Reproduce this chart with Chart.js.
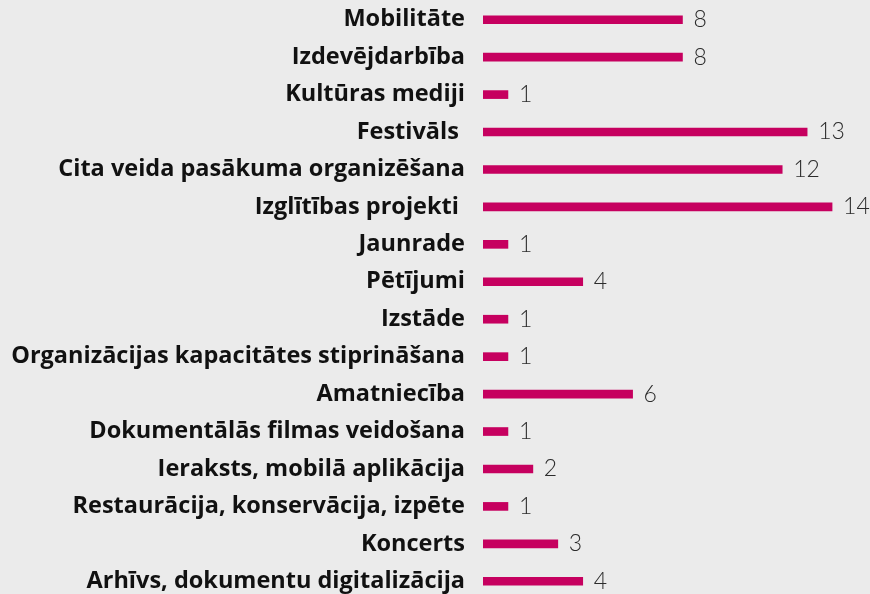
<!DOCTYPE html>
<html>
<head>
  <meta charset="UTF-8" />
  <title>Projektu jomas</title>
  <script src="https://cdn.jsdelivr.net/npm/chart.js"></script>
  <style>
    html, body { margin: 0; padding: 0; background: #ebebeb; overflow: hidden; }
    #wrap { width: 870px; height: 601px; }
  </style>
</head>
<body>
  <div id="wrap"><canvas id="chart"></canvas></div>
  <script>
    const categories = [
      'Mobilitāte', 'Izdevējdarbība', 'Kultūras mediji', 'Festivāls ',
      'Cita veida pasākuma organizēšana', 'Izglītības projekti ', 'Jaunrade',
      'Pētījumi', 'Izstāde', 'Organizācijas kapacitātes stiprināšana',
      'Amatniecība', 'Dokumentālās filmas veidošana', 'Ieraksts, mobilā aplikācija',
      'Restaurācija, konservācija, izpēte', 'Koncerts', 'Arhīvs, dokumentu digitalizācija'
    ];
    const counts = [8, 8, 1, 13, 12, 14, 1, 4, 1, 1, 6, 1, 2, 1, 3, 4];

    // writes the number just past the end of each bar
    const valueLabels = {
      id: 'valueLabels',
      afterDatasetsDraw(chart) {
        const ctx = chart.ctx;
        const meta = chart.getDatasetMeta(0);
        ctx.save();
        ctx.font = '300 23px Lato, "Open Sans", sans-serif';
        ctx.fillStyle = '#2b2b2b';
        ctx.textBaseline = 'middle';
        meta.data.forEach((bar, i) => {
          ctx.fillText(String(counts[i]), bar.x + 11, bar.y);
        });
        ctx.restore();
      }
    };

    new Chart(document.getElementById('chart'), {
      type: 'bar',
      data: {
        labels: categories,
        datasets: [{
          data: counts,
          backgroundColor: '#c6005f',
          barThickness: 8
        }]
      },
      options: {
        indexAxis: 'y',
        responsive: true,
        maintainAspectRatio: false,
        animation: false,
        layout: { padding: { top: 1, bottom: 1, left: 0, right: 13 } },
        plugins: { legend: { display: false }, tooltip: { enabled: false } },
        scales: {
          x: {
            min: 0, max: 15,
            display: false
          },
          y: {
            grid: { display: false, drawTicks: false },
            border: { display: false },
            afterFit: s => { s.width = 483; s.paddingTop = 0; s.paddingBottom = 0; },
            ticks: {
              padding: 18,
              color: '#111',
              font: { family: '"Open Sans", sans-serif', size: 23.5, weight: 'bold' }
            }
          }
        }
      },
      plugins: [valueLabels]
    });
  </script>
</body>
</html>
